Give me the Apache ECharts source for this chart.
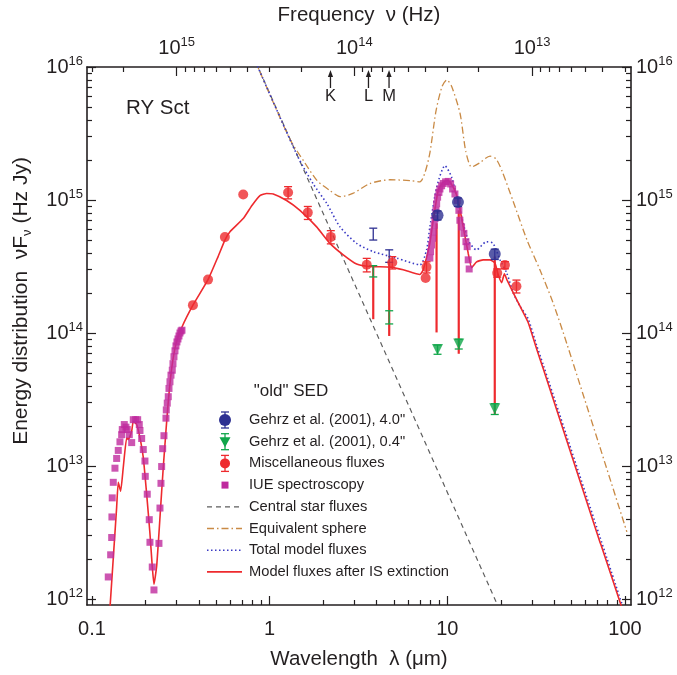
<!DOCTYPE html>
<html>
<head>
<meta charset="utf-8">
<title>RY Sct SED</title>
<script src="https://cdn.jsdelivr.net/npm/echarts/dist/echarts.min.js"></script>
<style>
  html, body { margin: 0; padding: 0; background: #fff; }
  #chart { width: 677px; height: 675px; }
</style>
</head>
<body>
<div id="chart"></div>
<script>
// speed of light in um*Hz, for the frequency axis on top
const C_UM_HZ = 2.998e14;

// Model fluxes after IS extinction  (wavelength um, nuFnu Hz Jy)
const modelLam = [0.1263,0.1377,0.1406,0.1450,0.1500,0.1568,0.1601,0.1673,0.1708,0.1785,0.1863,0.1944,0.2031,0.2120,0.2184,0.2233,0.2312,0.2382,0.2435,0.2519,0.2599,0.2688,0.2809,0.2970,0.3211,0.370,0.450,0.512,0.560,0.598,0.710,0.795,0.882,0.962,1.048,1.246,1.481,1.839,2.184,2.596,3.088,3.667,4.75,5.65,7.01,7.32,7.98,8.33,8.89,9.48,10.12,10.80,11.52,12.29,13.11,13.70,14.62,15.92,17.37,18.53,19.34,20.21,20.96,21.64,23.49,25.62,28.53,31.81,34.65,72.2,73.6,96.1];
const modelF = [8.6e11,4.91e12,7.54e12,6.46e12,9.75e12,1.63e13,1.58e13,1.83e13,2.17e13,2.05e13,1.63e13,1.16e13,6.17e12,3.11e12,1.76e12,1.29e12,1.76e12,3.11e12,4.91e12,9.75e12,1.72e13,3.05e13,5.40e13,8.28e13,1.11e14,1.62e14,2.52e14,3.74e14,5.0e14,5.77e14,7.25e14,9.1e14,1.08e15,1.12e15,1.11e15,9.92e14,8.36e14,6.28e14,4.72e14,3.87e14,3.30e14,3.16e14,3.13e14,2.99e14,2.75e14,2.99e14,4.75e14,7.04e14,1.18e15,1.36e15,1.40e15,1.25e15,9.92e14,6.28e14,3.98e14,3.10e14,3.43e14,3.55e14,3.55e14,3.37e14,2.75e14,2.39e14,2.79e14,2.52e14,2.01e14,1.60e14,1.20e14,7.6e13,5.40e13,2.70e12,2.52e12,8.6e11];

// Total model fluxes
const totalLam = [0.82,1.44,1.76,2.10,2.49,3.09,3.83,5.19,7.01,7.64,7.98,8.71,9.70,10.58,11.8,13.1,14.6,16.6,18.1,19.8,21.6,23.5,25.6,28.5,31.8,34.65,96.1];
const totalF = [1.15e16,2.12e15,1.32e15,9.4e14,6.28e14,4.72e14,4.09e14,3.66e14,3.26e14,4.22e14,6.28e14,1.24e15,1.81e15,1.48e15,8.36e14,5.0e14,4.22e14,4.85e14,4.72e14,3.55e14,2.83e14,2.01e14,1.60e14,1.28e14,8.1e13,5.78e13,9.2e11];

// Equivalent sphere
const sphereLam = [0.82,1.30,1.58,1.85,2.18,2.49,2.94,3.67,4.75,6.16,7.01,7.48,7.98,8.63,9.33,9.95,10.6,11.8,12.7,13.7,15.2,17.4,18.8,20.3,23.4,28.1,33.2,39.3,47.1,102.5];
const sphereF = [1.15e16,2.87e15,1.90e15,1.40e15,1.18e15,1.06e15,1.12e15,1.33e15,1.42e15,1.40e15,1.37e15,1.60e15,2.26e15,4.63e15,7.10e15,8.0e15,7.1e15,4.47e15,2.33e15,1.77e15,1.90e15,2.14e15,2.04e15,1.66e15,9.9e14,5.0e14,2.99e14,1.70e14,8.3e13,3.2e12];

// Central star fluxes (straight in log-log)
const starLam = [0.8, 30];
const starF = [1.24e16, 2.35e11];

// IUE spectroscopy (UV) + mid-IR spectrum points
const iueLam = [0.1235,0.1274,0.1291,0.1295,0.1300,0.1318,0.1347,0.1377,0.1406,0.1437,0.1469,0.1481,0.1520,0.1553,0.1580,0.1622,0.1673,0.1708,0.1762,0.1808,0.1846,0.1863,0.1904,0.1944,0.1987,0.1995,0.2047,0.2101,0.2120,0.2184,0.2233,0.2382,0.2414,0.2445,0.2467,0.2500,0.2542,0.2609,0.2620,0.2653,0.2688,0.2713,0.2748,0.2784,0.2831,0.2857,0.2894,0.2932,0.2970,0.3008,0.3048,0.3088,0.3128,0.3170,0.3211,
  7.98,8.05,8.16,8.27,8.33,8.44,8.52,8.63,8.71,8.82,8.97,9.09,9.29,9.48,9.78,10.12,10.44,10.71,11.04,11.37,11.62,11.77,12.03,12.40,12.73,12.94,13.11,13.28];
const iueF = [1.465e12,2.15e12,2.90e12,4.14e12,5.76e12,7.54e12,9.63e12,1.14e13,1.31e13,1.52e13,1.72e13,1.88e13,2.05e13,1.96e13,1.88e13,1.72e13,1.50e13,2.23e13,2.23e13,2.23e13,2.05e13,1.85e13,1.61e13,1.33e13,1.09e13,8.36e12,6.14e12,3.95e12,2.67e12,1.74e12,1.17e12,2.62e12,4.83e12,7.41e12,9.91e12,1.35e13,1.69e13,2.29e13,2.64e13,2.97e13,3.32e13,3.83e13,4.30e13,4.82e13,5.25e13,5.88e13,6.63e13,7.35e13,8.0e13,8.57e13,9.02e13,9.5e13,1.0e14,1.035e14,1.05e14,
  3.66e14,4.09e14,4.59e14,5.15e14,5.77e14,6.46e14,7.25e14,8.36e14,9.37e14,1.05e15,1.14e15,1.21e15,1.28e15,1.33e15,1.37e15,1.38e15,1.32e15,1.21e15,1.11e15,9.92e14,8.36e14,7.04e14,6.28e14,5.61e14,4.86e14,4.46e14,3.55e14,3.03e14];

// Miscellaneous fluxes
const miscLam = [0.370,0.450,0.560,0.710,1.27,1.64,2.21,3.52,4.90,7.64,7.55,19.1,21.1,24.5];
const miscF = [1.62e14,2.52e14,5.26e14,1.10e15,1.14e15,8.04e14,5.28e14,3.26e14,3.39e14,3.13e14,2.59e14,2.83e14,3.24e14,2.25e14];
const miscErr = [0,0,0,0,1.2e14,9e13,6e13,3.8e13,3.6e13,3e13,0,2e13,2e13,2.5e13];

// Gehrz et al. (2001), 4.0" and 0.4"
const g40Lam = [8.81, 11.48, 18.5];
const g40F = [7.67e14, 9.64e14, 3.92e14];
const g40Err = [6e13, 7e13, 3.5e13];
const g04Lam = [8.81, 11.6, 18.5];
const g04F = [7.52e13, 8.28e13, 2.69e13];
const g04Err = [6e12, 7e12, 2.5e12];
// bars without markers (L, M)
const g40BarLam = [3.83, 4.71];
const g40BarLo = [5.0e14, 3.4e14];
const g40BarHi = [6.14e14, 4.22e14];
const g04BarLam = [3.83, 4.71];
const g04BarLo = [2.64e14, 1.17e14];
const g04BarHi = [3.21e14, 1.47e14];

// red drop lines
const dropLam = [3.83, 4.71, 8.7, 11.6, 18.5];
const dropTop = [3.16e14, 3.43e14, 6.68e14, 8.36e14, 3.76e14];
const dropBot = [1.27e14, 9.5e13, 1.01e14, 6.98e13, 2.43e13];

// photometric bands marked on top
const bandNames = ['K', 'L', 'M'];
const bandLam = [2.2, 3.6, 4.7];

// axis ticks
const xMajor = [0.1, 1, 10, 100];
const xTickLabels = ['0.1', '1', '10', '100'];
const yMajor = [1e12, 1e13, 1e14, 1e15, 1e16];
const nuMajor = [1e15, 1e14, 1e13];

const legendNames = ['Gehrz et al. (2001), 4.0"', 'Gehrz et al. (2001), 0.4"', 'Miscellaneous fluxes', 'IUE spectroscopy',
  'Central star fluxes', 'Equivalent sphere', 'Total model fluxes', 'Model fluxes after IS extinction'];

const FONT = '"Liberation Sans", Arial, Helvetica, sans-serif';
const INK = '#231f20';
const RED = '#ee2a2e';
const BLUE = '#2e3192';
const DOT_BLUE = '#3a3ac4';
const GREEN = '#10a64a';
const MAGENTA = '#bf2a9e';
const GRAY = '#5e5e5e';
const ORANGE = '#c98a45';

const X_MIN = -1.028, X_MAX = 2.034, Y_MIN = 11.955, Y_MAX = 16;
const L = Math.log10;
const LC = L(C_UM_HZ);

const xy = (lam, f) => lam.map((v, i) => [L(v), L(f[i])]);
const inX = v => v >= X_MIN && v <= X_MAX;
const inY = v => v >= Y_MIN - 1e-9 && v <= Y_MAX + 1e-9;

function minorLog(d0, d1) {
  const out = [];
  for (let d = d0; d <= d1; d++) for (let k = 2; k <= 9; k++) out.push(d + L(k));
  return out;
}
const xMajorLog = xMajor.map(L);
const xMinorLog = minorLog(-2, 2).filter(inX);
const yMajorLog = yMajor.map(L);
const yMinorLog = minorLog(11, 15).filter(inY);
const nuMajorLog = nuMajor.map(v => LC - L(v));
const nuMinorLog = minorLog(12, 16).map(v => LC - v).filter(inX);

const supRich = {
  b: { fontSize: 20, lineHeight: 25, fontFamily: FONT, color: INK },
  s: { fontSize: 13, lineHeight: 13, verticalAlign: 'top', fontFamily: FONT, color: INK }
};
const sup = n => '{b|10}{s|' + n + '}';

function axisBase(pos, min, max, extra) {
  return Object.assign({
    type: 'value', position: pos, min: min, max: max,
    splitLine: { show: false },
    axisLine: { show: false, onZero: false },
  }, extra);
}
const frameLine = { show: true, onZero: false, lineStyle: { color: INK, width: 1.6 } };
const tickStyle = { color: INK, width: 1.2 };
const titleStyle = { fontSize: 20.5, fontFamily: FONT, color: INK };

const xAxes = [
  axisBase('bottom', X_MIN, X_MAX, {
    axisLine: frameLine,
    axisTick: { inside: true, length: 9, customValues: xMajorLog, lineStyle: tickStyle },
    axisLabel: {
      customValues: xMajorLog, margin: 14, fontSize: 20, fontFamily: FONT, color: INK,
      formatter: v => xTickLabels[xMajorLog.findIndex(t => Math.abs(t - v) < 1e-6)]
    },
    name: 'Wavelength  λ (μm)', nameLocation: 'middle', nameGap: 44,
    nameTextStyle: titleStyle
  }),
  axisBase('bottom', X_MIN, X_MAX, {
    axisTick: { inside: true, length: 5, customValues: xMinorLog, lineStyle: tickStyle },
    axisLabel: { show: false }
  }),
  axisBase('top', X_MIN, X_MAX, {
    axisLine: frameLine,
    axisTick: { inside: true, length: 9, customValues: nuMajorLog, lineStyle: tickStyle },
    axisLabel: {
      customValues: nuMajorLog, margin: 6, rich: supRich,
      formatter: v => sup(Math.round(LC - v))
    },
    name: 'Frequency  ν (Hz)', nameLocation: 'middle', nameGap: 41,
    nameTextStyle: titleStyle
  }),
  axisBase('top', X_MIN, X_MAX, {
    axisTick: { inside: true, length: 5, customValues: nuMinorLog, lineStyle: tickStyle },
    axisLabel: { show: false }
  })
];

const yAxes = [
  axisBase('left', Y_MIN, Y_MAX, {
    axisLine: frameLine,
    axisTick: { inside: true, length: 9, customValues: yMajorLog, lineStyle: tickStyle },
    axisLabel: { customValues: yMajorLog, margin: 4, rich: supRich, formatter: v => sup(Math.round(v)) }
  }),
  axisBase('left', Y_MIN, Y_MAX, {
    axisTick: { inside: true, length: 5, customValues: yMinorLog, lineStyle: tickStyle },
    axisLabel: { show: false }
  }),
  axisBase('right', Y_MIN, Y_MAX, {
    axisLine: frameLine,
    axisTick: { inside: true, length: 9, customValues: yMajorLog, lineStyle: tickStyle },
    axisLabel: { customValues: yMajorLog, margin: 5, rich: supRich, formatter: v => sup(Math.round(v)) }
  }),
  axisBase('right', Y_MIN, Y_MAX, {
    axisTick: { inside: true, length: 5, customValues: yMinorLog, lineStyle: tickStyle },
    axisLabel: { show: false }
  })
];

function errorBars(items, color, width, half) {
  return {
    type: 'custom', xAxisIndex: 0, yAxisIndex: 0, z: 5, clip: true,
    data: items,
    encode: { x: 0, y: [1, 2] },
    renderItem: function (params, api) {
      const lo = api.coord([api.value(0), api.value(1)]);
      const hi = api.coord([api.value(0), api.value(2)]);
      const st = { stroke: color, lineWidth: width };
      return {
        type: 'group', children: [
          { type: 'line', shape: { x1: lo[0], y1: lo[1], x2: hi[0], y2: hi[1] }, style: st },
          { type: 'line', shape: { x1: lo[0] - half, y1: lo[1], x2: lo[0] + half, y2: lo[1] }, style: st },
          { type: 'line', shape: { x1: hi[0] - half, y1: hi[1], x2: hi[0] + half, y2: hi[1] }, style: st }
        ]
      };
    }
  };
}
const barsFromErr = (lam, f, err) => lam.map((v, i) => [L(v), L(f[i] - err[i]), L(f[i] + err[i])])
  .filter((d, i) => err[i] > 0);
const barsFromRange = (lam, lo, hi) => lam.map((v, i) => [L(v), L(lo[i]), L(hi[i])]);

const series = [
  {
    name: 'Central star fluxes', type: 'line', data: xy(starLam, starF), symbol: 'none', z: 2,
    lineStyle: { color: GRAY, width: 1.2, type: [5, 4] }
  },
  {
    name: 'Equivalent sphere', type: 'line', data: xy(sphereLam, sphereF), symbol: 'none', z: 2, smooth: 0.25,
    lineStyle: { color: ORANGE, width: 1.3, type: [7, 3, 1.5, 3] }
  },
  {
    name: 'Total model fluxes', type: 'line', data: xy(totalLam, totalF), symbol: 'none', z: 2, smooth: 0.25,
    lineStyle: { color: DOT_BLUE, width: 1.6, type: [1.5, 2.5] }
  },
  {
    name: 'Model fluxes after IS extinction', type: 'line', data: xy(modelLam, modelF), symbol: 'none', z: 3, smooth: 0.15,
    lineStyle: { color: RED, width: 1.6 }
  },
  Object.assign(errorBars(barsFromRange(dropLam, dropBot, dropTop), RED, 2.2, 0), { z: 3 }),
  {
    name: 'IUE spectroscopy', type: 'scatter', data: xy(iueLam, iueF), symbol: 'rect', symbolSize: 7, z: 4,
    itemStyle: { color: MAGENTA }
  },
  errorBars(barsFromErr(miscLam, miscF, miscErr), RED, 1.3, 4),
  errorBars(barsFromErr(g40Lam, g40F, g40Err).concat(barsFromRange(g40BarLam, g40BarLo, g40BarHi)), BLUE, 1.3, 4),
  errorBars(barsFromErr(g04Lam, g04F, g04Err).concat(barsFromRange(g04BarLam, g04BarLo, g04BarHi)), GREEN, 1.3, 4),
  {
    name: 'Miscellaneous fluxes', type: 'scatter', data: xy(miscLam, miscF), symbol: 'circle', symbolSize: 10, z: 6,
    itemStyle: { color: RED }
  },
  {
    name: 'Gehrz 4.0', type: 'scatter', data: xy(g40Lam, g40F), symbol: 'circle', symbolSize: 12, z: 6,
    itemStyle: { color: BLUE }
  },
  {
    name: 'Gehrz 0.4', type: 'scatter', data: xy(g04Lam, g04F), symbol: 'triangle', symbolRotate: 180, symbolSize: 11, z: 6,
    itemStyle: { color: GREEN }
  },
  {
    name: 'bands', type: 'custom', z: 6,
    data: bandLam.map((v, i) => [L(v), Y_MAX, bandNames[i]]),
    encode: { x: 0, y: 1 },
    renderItem: function (params, api) {
      const p = api.coord([api.value(0), api.value(1)]);
      const x = p[0], top = p[1] + 3;
      return {
        type: 'group', children: [
          { type: 'line', shape: { x1: x, y1: top + 4, x2: x, y2: top + 18 }, style: { stroke: INK, lineWidth: 1.3 } },
          { type: 'polygon', shape: { points: [[x, top], [x - 2.6, top + 7], [x + 2.6, top + 7]] }, style: { fill: INK } },
          {
            type: 'text', x: x, y: top + 26,
            style: { text: bandNames[params.dataIndex], fontSize: 16.5, fontFamily: FONT, fill: INK, align: 'center', verticalAlign: 'middle' }
          }
        ]
      };
    }
  }
];

// legend drawn as graphics
const LEG_SYM_X = 225, LEG_TXT_X = 249;
const legRows = legendNames.map((n, i) => 420 + i * 21.7);
const legText = (t, y) => ({
  type: 'text', x: LEG_TXT_X, y: y,
  style: { text: t, fontSize: 14.7, fontFamily: FONT, fill: INK, verticalAlign: 'middle' }
});
const legBar = (y, color) => [
  { type: 'line', shape: { x1: LEG_SYM_X, y1: y - 8, x2: LEG_SYM_X, y2: y + 8 }, style: { stroke: color, lineWidth: 1.3 } },
  { type: 'line', shape: { x1: LEG_SYM_X - 4, y1: y - 8, x2: LEG_SYM_X + 4, y2: y - 8 }, style: { stroke: color, lineWidth: 1.3 } },
  { type: 'line', shape: { x1: LEG_SYM_X - 4, y1: y + 8, x2: LEG_SYM_X + 4, y2: y + 8 }, style: { stroke: color, lineWidth: 1.3 } }
];
const legLine = (y, color, dash, w) => ({
  type: 'line', shape: { x1: 207, y1: y, x2: 242, y2: y }, style: { stroke: color, lineWidth: w, lineDash: dash }
});

const graphic = [
  {
    // y axis title, rotated, centred a bit above the plot middle as in the original
    type: 'text', x: 21, y: 301, rotation: Math.PI / 2,
    style: {
      text: 'Energy distribution  νF{sub|ν} (Hz Jy)', fontSize: 21, fontFamily: FONT, fill: INK,
      align: 'center', verticalAlign: 'middle', lineHeight: 26,
      rich: { sub: { fontSize: 13, lineHeight: 13, verticalAlign: 'bottom', fontFamily: FONT, fill: INK } }
    }
  },
  { type: 'text', x: 126, y: 108, style: { text: 'RY Sct', fontSize: 20.5, fontFamily: FONT, fill: INK, verticalAlign: 'middle' } },
  { type: 'text', x: 291, y: 391, style: { text: '"old" SED', fontSize: 17, fontFamily: FONT, fill: INK, align: 'center', verticalAlign: 'middle' } }
]
  .concat(legBar(legRows[0], BLUE))
  .concat([{ type: 'circle', shape: { cx: LEG_SYM_X, cy: legRows[0], r: 6 }, style: { fill: BLUE } }])
  .concat(legBar(legRows[1], GREEN))
  .concat([{ type: 'polygon', shape: { points: [[LEG_SYM_X - 5.5, legRows[1] - 4.5], [LEG_SYM_X + 5.5, legRows[1] - 4.5], [LEG_SYM_X, legRows[1] + 5.5]] }, style: { fill: GREEN } }])
  .concat(legBar(legRows[2], RED))
  .concat([{ type: 'circle', shape: { cx: LEG_SYM_X, cy: legRows[2], r: 5 }, style: { fill: RED } }])
  .concat([{ type: 'rect', shape: { x: LEG_SYM_X - 3.5, y: legRows[3] - 3.5, width: 7, height: 7 }, style: { fill: MAGENTA } }])
  .concat([
    legLine(legRows[4], GRAY, [5, 4], 1.2),
    legLine(legRows[5], ORANGE, [7, 3, 1.5, 3], 1.3),
    legLine(legRows[6], DOT_BLUE, [1.5, 2.5], 1.6),
    legLine(legRows[7], RED, null, 1.6)
  ])
  .concat(legendNames.map((n, i) => legText(n, legRows[i])));

const chart = echarts.init(document.getElementById('chart'), null, { renderer: 'canvas' });
chart.setOption({
  animation: false,
  backgroundColor: '#fff',
  grid: { left: 87, right: 46, top: 65, bottom: 66, containLabel: false },
  xAxis: xAxes,
  yAxis: yAxes,
  series: series,
  graphic: graphic
});
</script>
</body>
</html>
